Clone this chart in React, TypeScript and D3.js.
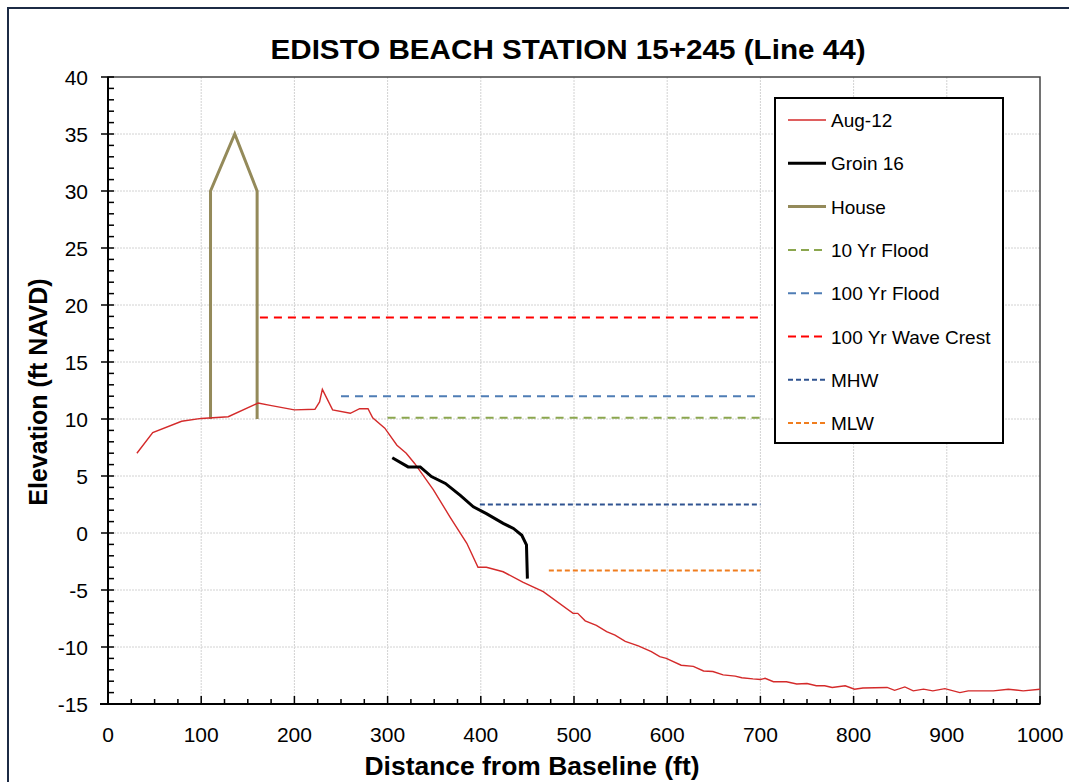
import React from "react";
import * as d3 from "d3";

const aug12X = [31, 48, 79, 100, 129, 161, 174, 200, 222, 227, 230, 241, 260, 270, 279, 284, 297, 310, 320, 329, 349, 367, 385, 397, 406, 424, 445, 467, 499, 504, 512, 524, 535, 544, 555, 569, 583, 592, 599, 615, 628, 639, 649, 660, 673, 680, 692, 700, 705, 714, 728, 739, 750, 760, 769, 777, 791, 801, 810, 836, 844, 855, 864, 875, 885, 898, 914, 923, 950, 966, 982, 1000];
const aug12Y = [7.0, 8.8, 9.8, 10.05, 10.2, 11.4, 11.2, 10.8, 10.85, 11.5, 12.6, 10.8, 10.5, 10.9, 10.9, 10.1, 9.2, 7.7, 7.0, 6.1, 3.8, 1.4, -0.9, -3.0, -3.0, -3.4, -4.3, -5.15, -7.05, -7.05, -7.7, -8.1, -8.65, -8.95, -9.5, -9.9, -10.4, -10.85, -11.0, -11.6, -11.7, -12.1, -12.15, -12.45, -12.55, -12.7, -12.8, -12.85, -12.75, -13.05, -13.05, -13.25, -13.2, -13.4, -13.4, -13.55, -13.4, -13.7, -13.6, -13.55, -13.8, -13.5, -13.85, -13.7, -13.85, -13.65, -14.0, -13.85, -13.85, -13.7, -13.85, -13.7];

const groinX = [305, 322, 335, 347, 362, 378, 392, 406, 424, 435, 444, 449, 450];
const groinY = [6.6, 5.8, 5.8, 4.95, 4.35, 3.3, 2.3, 1.7, 0.85, 0.4, -0.2, -1.05, -4.0];

const houseX = [110, 110, 136, 160, 160];
const houseY = [10, 30, 35, 30, 10];

const levelNames = ["10 Yr Flood", "100 Yr Flood", "100 Yr Wave Crest", "MHW", "MLW"];
const levelValues = [10.1, 12.0, 18.9, 2.5, -3.3];
const levelStart = [300, 250, 163, 399, 473];
const levelEnd = [700, 697, 700, 700, 700];

const xTicks = [0, 100, 200, 300, 400, 500, 600, 700, 800, 900, 1000];
const yTicks = [40, 35, 30, 25, 20, 15, 10, 5, 0, -5, -10, -15];

const legendNames = ["Aug-12", "Groin 16", "House", "10 Yr Flood", "100 Yr Flood", "100 Yr Wave Crest", "MHW", "MLW"];
const legendColors = ["#d42a2a", "#000000", "#948a5a", "#8ba64e", "#4f7db5", "#ff0000", "#2f5390", "#f07d1e"];
const legendWidths = [1.4, 3, 3, 2, 2, 2, 2, 2];
const legendDash = ["", "", "", "8,6", "8,6", "8,6", "5,3", "5,3"];

export default function App() {
  const W = 1069, H = 782;
  const L = 108, R = 1040, T = 77, B = 704;
  const x = d3.scaleLinear().domain([0, 1000]).range([L, R]);
  const y = d3.scaleLinear().domain([-15, 40]).range([B, T]);
  const line = d3.line<[number, number]>().x(d => x(d[0])).y(d => y(d[1]));
  const font = "'Liberation Sans', Arial, Helvetica, sans-serif";

  const aug = aug12X.map((v, i) => [v, aug12Y[i]] as [number, number]);
  const groin = groinX.map((v, i) => [v, groinY[i]] as [number, number]);
  const house = houseX.map((v, i) => [v, houseY[i]] as [number, number]);

  const minorX = d3.range(0, 1001, 25);
  const minorY = d3.range(-15, 41, 1);

  const lgX = 775, lgY = 98, lgW = 228, lgH = 345;
  const rowY = (i: number) => 120 + i * 43.3;

  return (
    <svg width={W} height={H} style={{ position: "absolute", left: 0, top: 0, background: "#fff" }} fontFamily={font}>
      <rect x={0} y={0} width={W} height={H} fill="#fff" />
      <rect x={8} y={8} width={1200} height={900} fill="none" stroke="#1c2b45" strokeWidth={2} />
      <text x={568} y={59} textAnchor="middle" fontSize={28} fontWeight="bold" fill="#000"
        textLength={595} lengthAdjust="spacingAndGlyphs">EDISTO BEACH STATION 15+245 (Line 44)</text>

      {/* grid */}
      {xTicks.slice(1, -1).map(t => (
        <line key={"gx" + t} x1={x(t)} x2={x(t)} y1={T} y2={B} stroke="#d2d2d2" strokeWidth={1} strokeDasharray="2,1" />
      ))}
      {yTicks.slice(1, -1).map(t => (
        <line key={"gy" + t} x1={L} x2={R} y1={y(t)} y2={y(t)} stroke="#d2d2d2" strokeWidth={1} strokeDasharray="2,1" />
      ))}

      {/* plot border */}
      <rect x={L} y={T} width={R - L} height={B - T} fill="none" stroke="#444" strokeWidth={1.5} />
      <line x1={L} x2={L} y1={T} y2={B} stroke="#000" strokeWidth={2} />
      <line x1={L - 8} x2={R} y1={B} y2={B} stroke="#000" strokeWidth={2} />

      {/* ticks */}
      {minorX.map(t => (
        <line key={"mx" + t} x1={x(t)} x2={x(t)} y1={B} y2={B - (t % 100 === 0 ? 8 : 5)} stroke="#000" strokeWidth={1.5} />
      ))}
      {minorY.map(t => (
        <line key={"my" + t} x1={t % 5 === 0 ? L - 7 : L} x2={L + 6} y1={y(t)} y2={y(t)} stroke="#000" strokeWidth={1.5} />
      ))}

      {xTicks.map(t => (
        <text key={"xl" + t} x={x(t)} y={742} textAnchor="middle" fontSize={21} fill="#000">{t}</text>
      ))}
      {yTicks.map(t => (
        <text key={"yl" + t} x={88} y={y(t) + 7.5} textAnchor="end" fontSize={21} fill="#000">{t}</text>
      ))}

      <text x={532} y={775} textAnchor="middle" fontSize={25} fontWeight="bold" fill="#000"
        textLength={335} lengthAdjust="spacingAndGlyphs">Distance from Baseline (ft)</text>
      <text transform={`translate(47,392) rotate(-90)`} textAnchor="middle" fontSize={25} fontWeight="bold" fill="#000">Elevation (ft NAVD)</text>

      {/* levels */}
      {levelNames.map((n, i) => (
        <line key={n} x1={x(levelStart[i])} x2={x(levelEnd[i])} y1={y(levelValues[i])} y2={y(levelValues[i])}
          stroke={legendColors[i + 3]} strokeWidth={2} strokeDasharray={legendDash[i + 3]} />
      ))}

      <path d={line(house) || ""} fill="none" stroke="#948a5a" strokeWidth={3} />
      <path d={line(aug) || ""} fill="none" stroke="#d42a2a" strokeWidth={1.4} />
      <path d={line(groin) || ""} fill="none" stroke="#000" strokeWidth={3} />

      {/* legend */}
      <rect x={lgX} y={lgY} width={lgW} height={lgH} fill="#fff" stroke="#000" strokeWidth={2} />
      {legendNames.map((n, i) => (
        <g key={n}>
          <line x1={788} x2={826} y1={rowY(i)} y2={rowY(i)} stroke={legendColors[i]} strokeWidth={legendWidths[i]}
            strokeDasharray={legendDash[i] === "8,6" ? "8,5" : legendDash[i]} />
          <text x={831} y={rowY(i) + 7} fontSize={19} fill="#000">{n}</text>
        </g>
      ))}
    </svg>
  );
}
